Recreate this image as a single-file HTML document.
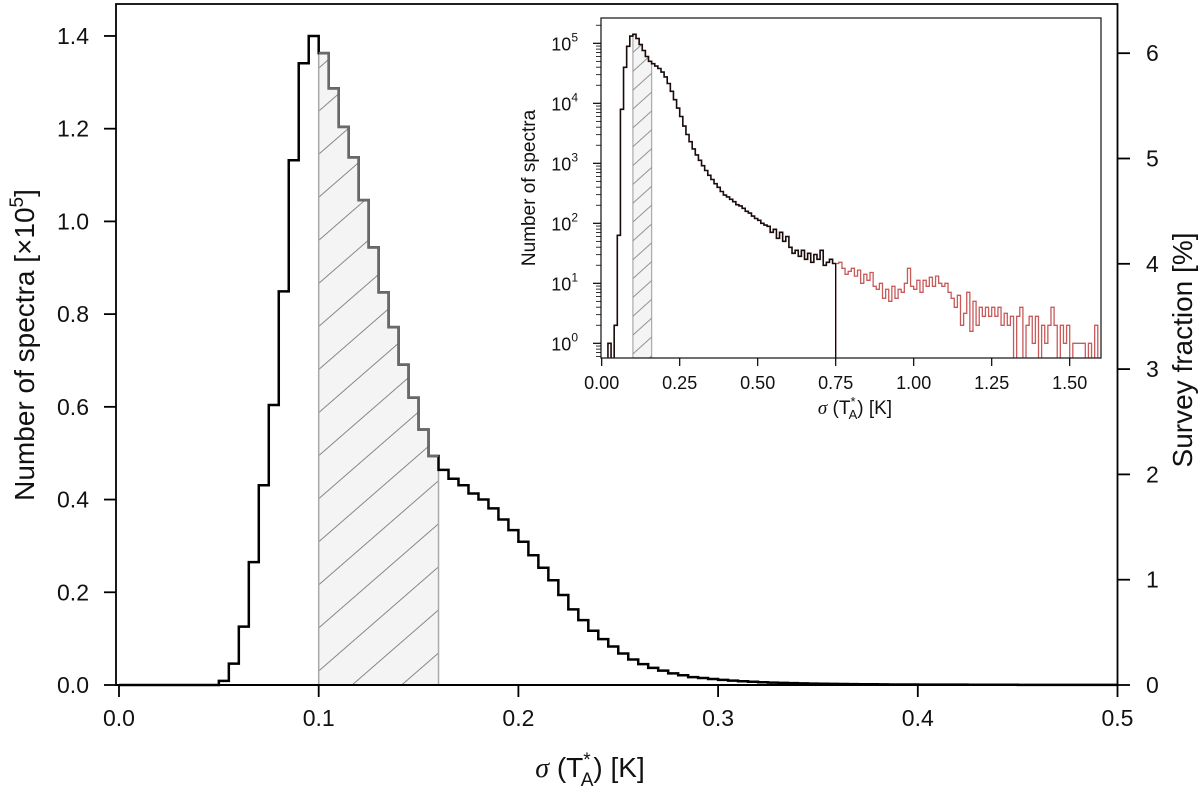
<!DOCTYPE html>
<html><head><meta charset="utf-8"><style>
html,body{margin:0;padding:0;background:#fff;}
svg{display:block;font-family:"Liberation Sans",Arial,sans-serif;}
</style></head><body>
<svg id="chart" width="1200" height="789" viewBox="0 0 1200 789" xmlns="http://www.w3.org/2000/svg">
<defs>
<pattern id="hatchMain" patternUnits="userSpaceOnUse" width="10" height="32.5" patternTransform="rotate(-41)">
<line x1="0" y1="0.5" x2="10" y2="0.5" stroke="#888" stroke-width="1"/>
</pattern>
<pattern id="hatchInset" patternUnits="userSpaceOnUse" width="10" height="14" patternTransform="rotate(-42)">
<line x1="0" y1="0.5" x2="10" y2="0.5" stroke="#888" stroke-width="0.9"/>
</pattern>
<clipPath id="insetClip"><rect x="601" y="18" width="500" height="340"/></clipPath>
</defs>
<g id="main"></g>
<g id="inset"></g>
</svg>
<script>
// ---------- main histogram data (units of 1e5 spectra) ----------
const binWidth = 0.005;
const binStart = 0.05;
const mainCounts = [0.009,0.046,0.126,0.265,0.431,0.604,0.849,1.132,1.341,1.40,
1.363,1.287,1.204,1.138,1.046,0.944,0.847,0.772,0.691,0.620,
0.551,0.494,0.464,0.445,0.431,0.413,0.400,0.381,0.357,0.334,
0.309,0.280,0.253,0.226,0.194,0.163,0.140,0.117,0.099,0.083,
0.068,0.055,0.045,0.037,0.031,0.025,0.021,0.017,0.015,0.013,
0.011,0.0095,0.008,0.007,0.006,0.0052,0.0045,0.004,0.0035,0.003,
0.0027,0.0024,0.0021,0.0019,0.0017,0.0015,0.0013,0.0012,0.0011,0.001,
0.0009,0.0008,0.0008,0.0007,0.0007,0.0006,0.0006,0.0005,0.0005,0.0005,
0.0004,0.0004,0.0004,0.0004,0.0003,0.0003,0.0003,0.0003,0.0003,0.0003];
const shadeRange = [0.10, 0.16];
const xTicks = [0.0,0.1,0.2,0.3,0.4,0.5];
const xTickLabels = ["0.0","0.1","0.2","0.3","0.4","0.5"];
const yTicks = [0,0.2,0.4,0.6,0.8,1.0,1.2,1.4];
const yTickLabels = ["0.0","0.2","0.4","0.6","0.8","1.0","1.2","1.4"];
const rTicks = [0,1,2,3,4,5,6];
const rTickLabels = ["0","1","2","3","4","5","6"];

// ---------- inset data (log10 counts, bin step 0.01) ----------
const insetStep = 0.01;
const insetBlackStart = 0.02;
const insetBlackLog = [0,-1,0.3,1.8,3.9,4.6,4.95,5.12,5.15,5.08,4.98,4.88,4.78,4.7,4.66,4.62,4.58,4.52,4.44,4.33,
4.2,4.06,3.92,3.78,3.62,3.48,3.36,3.24,3.14,3.05,2.96,2.88,2.8,2.73,2.66,2.6,2.53,2.47,2.44,2.4,
2.36,2.31,2.29,2.25,2.2,2.17,2.12,2.08,2.05,2.0,1.97,1.95,1.85,1.9,1.75,1.85,1.7,1.78,1.6,1.5,
1.55,1.45,1.55,1.4,1.5,1.35,1.48,1.4,1.55,1.3,1.35,1.4,1.33];
const insetRedStart = 0.75;
const insetRedLog = [1.33,1.35,1.25,1.15,1.2,1.25,1.12,1.22,1.0,1.15,1.05,1.18,0.95,0.9,1.0,0.75,0.9,0.7,0.95,0.75,
0.9,0.85,1.0,1.25,0.95,0.9,1.05,0.85,1.05,0.95,1.1,0.95,1.12,1.0,0.95,1.0,0.85,0.75,0.6,0.8,
0.3,0.5,0.85,0.2,0.7,0.3,0.6,0.45,0.6,0.45,0.6,0.45,0.6,0.3,0.5,0.3,0.45,-1,0.45,0.6,
-1,0.3,0.45,0,0.45,-1,0.3,0,0.3,0.6,0.3,-1,0.3,0,0.3,-1,0,0,0,0,
-1,0,-1,0.3,-1];
const insetXTicks = [0,0.25,0.5,0.75,1.0,1.25,1.5];
const insetXTickLabels = ["0.00","0.25","0.50","0.75","1.00","1.25","1.50"];
const insetYExps = [0,1,2,3,4,5];
const insetShade = [0.10, 0.16];
const insetCut = 0.75;

const NS = "http://www.w3.org/2000/svg";
function mk(parent, tag, attrs, text){
  const e = document.createElementNS(NS, tag);
  for (const k in attrs) e.setAttribute(k, attrs[k]);
  if (text !== undefined) e.textContent = text;
  parent.appendChild(e);
  return e;
}
const X = v => 119 + v * 1997;
const Y = v => 685 - v * 463.6;
const YR = v => 685 - v * 105.3;
const gm = document.getElementById('main');

const s0 = shadeRange[0], s1 = shadeRange[1];
let sp = `M${X(s0)},${Y(0)}`;
for (let i = 0; i < mainCounts.length; i++) {
  const a = binStart + i * binWidth, b = a + binWidth;
  if (a >= s0 - 1e-9 && b <= s1 + 1e-9) sp += ` L${X(a)},${Y(mainCounts[i])} L${X(b)},${Y(mainCounts[i])}`;
}
sp += ` L${X(s1)},${Y(0)} Z`;
const shadeFill = mk(gm,'path',{d:sp,fill:'#f4f4f4'});


const shadeHatch = mk(gm,'path',{d:sp,fill:'url(#hatchMain)'});


const sv0 = mainCounts[Math.round((s0 - binStart)/binWidth)];
const sv1 = mainCounts[Math.round((s1 - binStart)/binWidth) - 1];
const bl = mk(gm,'line',{x1:X(s0),x2:X(s0),y1:Y(0),y2:Y(sv0),stroke:'#aaa','stroke-width':1.5});


const br = mk(gm,'line',{x1:X(s1),x2:X(s1),y1:Y(0),y2:Y(sv1),stroke:'#aaa','stroke-width':1.5});



let hp = `M${X(0)},${Y(0)} L${X(binStart)},${Y(0)}`;
for (let i = 0; i < mainCounts.length; i++) {
  const a = binStart + i * binWidth;
  hp += ` L${X(a)},${Y(mainCounts[i])} L${X(a+binWidth)},${Y(mainCounts[i])}`;
}
const hist = mk(gm,'path',{d:hp,fill:'none',stroke:'#000','stroke-width':2.5,'stroke-linejoin':'miter'});


let gp = '';
for (let i = 0; i < mainCounts.length; i++) {
  const a = binStart + i * binWidth, b = a + binWidth;
  if (a >= s0 - 1e-9 && b <= s1 + 1e-9) {
    gp += (gp ? ' L' : 'M') + `${X(a)},${Y(mainCounts[i])} L${X(b)},${Y(mainCounts[i])}`;
    if (b < s1 - 1e-9) gp += ` L${X(b)},${Y(mainCounts[i+1])}`;
  }
}
const hg = mk(gm,'path',{d:gp,fill:'none',stroke:'#6a6a6a','stroke-width':2.5});



const frame = mk(gm,'path',{d:`M116,685 L116,4 L1117.5,4 L1117.5,685 Z`,fill:'none',stroke:'#000','stroke-width':1.8});


const xaxis = mk(gm,'line',{x1:116,x2:1117.5,y1:685,y2:685,stroke:'#000','stroke-width':2});



xTicks.forEach((t,i)=>{
  const tk = mk(gm,'line',{x1:X(t),x2:X(t),y1:685,y2:697,stroke:'#000','stroke-width':1.8});
  
  
  const lb = mk(gm,'text',{x:X(t),y:726,'text-anchor':'middle','font-size':23,fill:'#111'}, xTickLabels[i]);
  
  
});
yTicks.forEach((t,i)=>{
  const tk = mk(gm,'line',{x1:104,x2:116,y1:Y(t),y2:Y(t),stroke:'#000','stroke-width':1.8});
  
  
  const lb = mk(gm,'text',{x:89,y:Y(t)+8,'text-anchor':'end','font-size':23,fill:'#111'}, yTickLabels[i]);
  
  
});
rTicks.forEach((t,i)=>{
  const tk = mk(gm,'line',{x1:1117.5,x2:1130,y1:YR(t),y2:YR(t),stroke:'#000','stroke-width':1.8});
  
  
  const lb = mk(gm,'text',{x:1146,y:YR(t)+8,'text-anchor':'start','font-size':23,fill:'#111'}, rTickLabels[i]);
  
  
});
const yt = mk(gm,'text',{x:0,y:0,'text-anchor':'middle','font-size':28,fill:'#111',transform:'translate(34,345) rotate(-90)'});


yt.innerHTML = 'Number of spectra [×10<tspan dy="-11" font-size="19">5</tspan><tspan dy="11">]</tspan>';
const rt = mk(gm,'text',{x:0,y:0,'text-anchor':'middle','font-size':28,fill:'#111',transform:'translate(1192,350) rotate(-90)'}, 'Survey fraction [%]');


const xt = mk(gm,'text',{x:590,y:777,'text-anchor':'middle','font-size':28,fill:'#111'});


xt.innerHTML = '<tspan font-style="italic" font-family="Liberation Serif, serif">σ</tspan> (T<tspan dy="-11" font-size="19">*</tspan><tspan dy="20" dx="-10" font-size="19">A</tspan><tspan dy="-9">) [K]</tspan>';

// ---------- inset ----------
const IX = v => 601.7 + v * 312;
const IY = l => 343.3 - l * 60;
const gi = document.getElementById('inset');
const ibg = mk(gi,'rect',{x:601,y:18,width:500,height:340,fill:'#fff'});


const clipG = mk(gi,'g',{'clip-path':'url(#insetClip)'});
// inset shade following curve
let isp = `M${IX(insetShade[0])},358`;
insetBlackLog.forEach((v,i)=>{
  const a = insetBlackStart + i*insetStep, b = a + insetStep;
  const lo = Math.max(a, insetShade[0]), hi = Math.min(b, insetShade[1]);
  if (hi > lo + 1e-9) isp += ` L${IX(lo)},${IY(v)} L${IX(hi)},${IY(v)}`;
});
isp += ` L${IX(insetShade[1])},358 Z`;
const ish = mk(clipG,'path',{d:isp,fill:'#f4f4f4',stroke:'#aaa','stroke-width':1.2});


const ishh = mk(clipG,'path',{d:isp,fill:'url(#hatchInset)'});


function stepPath(start, vals){
  let p = `M${IX(start)},${IY(-1)}`;
  vals.forEach((v,i)=>{
    const a = start + i*insetStep;
    p += ` L${IX(a)},${IY(v)} L${IX(a+insetStep)},${IY(v)}`;
  });
  return p;
}
const red = mk(clipG,'path',{d:stepPath(insetRedStart, insetRedLog),fill:'none',stroke:'#c85a5a','stroke-width':1.3});


const blk = mk(clipG,'path',{d:stepPath(insetBlackStart, insetBlackLog),fill:'none',stroke:'#1a0a0a','stroke-width':1.6});


const cut = mk(clipG,'line',{x1:IX(insetCut),x2:IX(insetCut),y1:IY(insetRedLog[0]),y2:358,stroke:'#000','stroke-width':1.2});


const iframe = mk(gi,'rect',{x:601,y:18,width:500,height:340,fill:'none',stroke:'#222','stroke-width':1.3});


insetXTicks.forEach((t,i)=>{
  const tk = mk(gi,'line',{x1:IX(t),x2:IX(t),y1:358,y2:366,stroke:'#000','stroke-width':1.2});
  
  
  const lb = mk(gi,'text',{x:IX(t),y:389,'text-anchor':'middle','font-size':18,fill:'#111'}, insetXTickLabels[i]);
  
  
});
insetYExps.forEach(e=>{
  const tk = mk(gi,'line',{x1:593,x2:601,y1:IY(e),y2:IY(e),stroke:'#000','stroke-width':1.2});
  
  
  for (let m=2;m<=9;m++){
    const yy = IY(e - 1 + Math.log10(m));
    if (yy > 358) continue;
    const mt = mk(gi,'line',{x1:596,x2:601,y1:yy,y2:yy,stroke:'#000','stroke-width':0.8});
    
    
  }
  const lb = mk(gi,'text',{x:578,y:IY(e)+7,'text-anchor':'end','font-size':18,fill:'#111'});
  
  
  lb.innerHTML = '10<tspan dy="-9" font-size="12">' + e + '</tspan>';
});
for (let m=2;m<=9;m++){
  const yy = IY(5 + Math.log10(m));
  if (yy < 18) continue;
  const mt = mk(gi,'line',{x1:596,x2:601,y1:yy,y2:yy,stroke:'#000','stroke-width':0.8});
  
  
}
const iyt = mk(gi,'text',{x:0,y:0,'text-anchor':'middle','font-size':19,fill:'#111',transform:'translate(535,188) rotate(-90)'}, 'Number of spectra');


const ixt = mk(gi,'text',{x:855,y:414,'text-anchor':'middle','font-size':19,fill:'#111'});


ixt.innerHTML = '<tspan font-style="italic" font-family="Liberation Serif, serif">σ</tspan> (T<tspan dy="-8" font-size="13">*</tspan><tspan dy="13" dx="-7" font-size="13">A</tspan><tspan dy="-5">) [K]</tspan>';
</script>
</body></html>
